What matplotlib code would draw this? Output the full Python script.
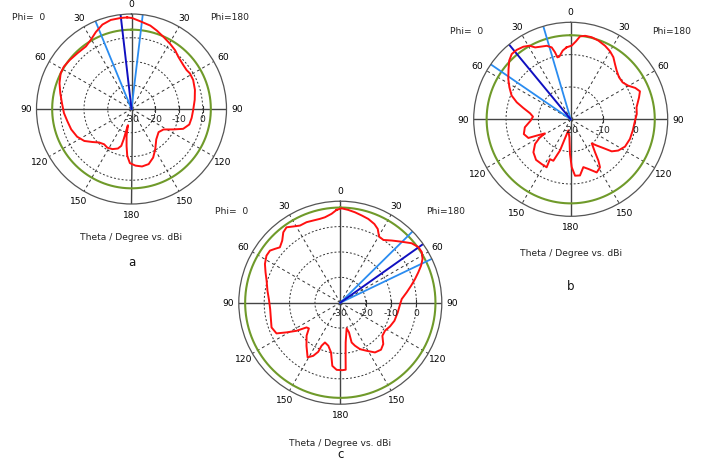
import numpy as np
import matplotlib
matplotlib.use("Agg")
import matplotlib.pyplot as plt

# theta in degrees, counted from the top; Phi=0 cut on the left half,
# Phi=180 cut on the right half (stored as 360 - theta). gain in dBi.

theta_a = [2.7, 6.8, 13.1, 19, 24.9, 30.4, 36, 43.8, 51.8, 58, 63.3, 70.3, 77.5, 85.1,
           93.4, 100.7, 108.7, 117, 124.1, 130.3, 136, 142.2, 148, 154.6, 161, 164.5,
           165.5, 166.5, 167.5, 169.6, 172.4, 174.8, 178.3, 184, 190.4, 197.3, 204,
           210.5, 219.2, 229.5, 237.4, 244, 249, 255, 261.6, 269.4, 278.3, 286.8, 295.2,
           301.4, 305.2, 310.3, 318, 323.4, 329.4, 336, 342.1, 347.3, 354.2, 359.6]
gain_a = [8.6, 8.6, 8.5, 7.6, 5.7, 3.8, 2.6, 2.7, 3.2, 3.6, 3.4, 2.2, 0.7, -0.6,
          -1.5, -2.5, -3.2, -4.3, -6.0, -8.5, -10.4, -11.2, -10.8, -11.3, -12.4, -13.9,
          -16.8, -21.1, -23.0, -18.5, -14.3, -10.2, -7.2, -6.1, -5.4, -5.7, -7.6,
          -10.3, -13.5, -15.0, -14.0, -10.4, -6.7, -4.8, -4.4, -4.0, -3.1, -2.1, -1.3,
          -1.2, -1.6, -1.4, -0.5, 0.8, 1.9, 3.2, 4.7, 6.0, 7.1, 8.3]

theta_b = [3.2, 6.6, 10.3, 12.1, 13.2, 14.8, 18, 22.4, 26.3, 29.3, 33.1, 37.9, 42.1,
           46.3, 51.1, 57.1, 62.4, 68.1, 72.5, 76.5, 81.6, 86, 91.9, 99.9, 107.5, 113.8,
           115.6, 118.6, 120.9, 124.7, 131.5, 139.5, 147, 153.4, 152.5, 157.3, 158.9,
           161.1, 163, 168, 175.9, 178.8, 181.2, 184.4, 189.4, 194.8, 199.6, 206.1,
           211.4, 213.8, 216.4, 221.2, 224.7, 228.7, 232, 236.7, 243.3, 251.6, 259.7,
           268.8, 274.6, 280.3, 287.8, 292, 295.9, 300.3, 305.4, 311, 316.6, 321.3,
           325.5, 330, 335, 340.6, 345.6, 350.2, 353.6, 356.1, 359.2]
gain_b = [2.3, 1.4, -0.3, -0.4, 1.3, 3.0, 3.9, 4.3, 4.8, 6.1, 6.8, 7.2, 7.2,
          6.3, 4.7, 3.0, 1.4, -0.3, -2.5, -4.9, -7.3, -8.3, -7.6, -5.6, -4.8, -5.7,
          -8.3, -10.9, -8.7, -6.6, -4.6, -3.5, -3.5, -3.4, -6.1, -6.1, -8.0,
          -9.8, -13.5, -16.5, -14.4, -9.3, -5.2, -2.5, -2.4, -4.7, -3.7, -1.7,
          -2.6, -4.6, -7.3, -10.1, -8.6, -6.5, -3.9, -2.4, -1.2, -0.7, -0.5,
          -0.1, 0.5, 0.7, 2.2, 3.1, 2.2, 0.6, -0.3, -0.2, 0.7, 1.9,
          3.3, 4.3, 5.1, 5.8, 6.2, 6.2, 5.8, 4.2, 2.8]

theta_c = [2.3, 5.6, 10.2, 13.7, 18.2, 22.7, 27.6, 31.7, 35.5, 39, 43.1, 47.5, 50.6,
           53.5, 57.5, 62.8, 67.9, 73.4, 80.6, 88, 95.2, 103.3, 109.8, 115.7, 118.9,
           122.7, 126.2, 129.3, 134.4, 141.9, 149.1, 153, 155.8, 156.5, 158.9, 164.4,
           169.4, 172.8, 176.9, 181.7, 184.6, 185.7, 187.7, 193.9, 196.3, 195.9, 198.8,
           203, 208.7, 214.9, 220.9, 226.1, 231.8, 237.9, 244.5, 251.6, 260.4, 268.7,
           273.4, 278.9, 283.5, 287.6, 291.3, 294.6, 298, 301.8, 305.4, 309.8, 314.8,
           320.4, 325.5, 329.6, 333.1, 336.6, 341.5, 346.2, 350.8, 355.1, 359.2]
gain_c = [6.6, 5.2, 4.2, 4.0, 4.1, 4.4, 4.3, 5.3, 6.5, 5.7, 3.5, 2.3, 3.4,
          4.5, 4.5, 3.4, 1.8, 0.3, -0.9, -1.9, -2.25, -1.9, -1.2, -2.1, -5.8,
          -9.5, -13.5, -14.0, -11.4, -8.4, -4.9, -6.5, -8.8, -11.5, -13.2, -12.4,
          -10.1, -4.9, -3.5, -3.4, -3.5, -9.0, -14.2, -19.6, -17.8, -13.7, -12.1,
          -10.1, -8.4, -6.1, -5.5, -6.5, -8.9, -9.2, -8.3, -7.5, -7.05, -6.4,
          -5.75, -3.5, -1.3, 0.9, 3.0, 5.0, 6.7, 7.8, 7.8, 6.6, 4.1,
          1.8, 0.0, 0.2, 2.6, 3.8, 4.8, 5.4, 6.1, 6.7, 7.2]

# main lobe direction and 3 dB angular width lines (deg)
main_a, width_a = 6.6, [22.3, 353.2]
main_b, width_b = 39.5, [16.4, 55.5]
main_c, width_c = 305.3, [314.6, 295.6]

# level circle (dBi)
level_a, level_b, level_c = 3.4, 6.0, 7.5

ring_labels_a = [-30, -20, -10, 0]
ring_labels_b = [-20, -10, 0]
ring_labels_c = [-30, -20, -10, 0]

tick_angles = [0, 30, 60, 90, 120, 150, 180, 210, 240, 270, 300, 330]
tick_labels = ["0", "30", "60", "90", "120", "150", "180", "150", "120", "90", "60", "30"]

W, H = 712, 460
FS = 6.6
plt.rcParams["font.family"] = ["DejaVu Sans"]

fig = plt.figure(figsize=(W / 100, H / 100), dpi=100)
fig.patch.set_facecolor("white")


def polar_panel(cx, cy, R, theta, gain, rmin, rings, main, widths, level, letter,
                phi_y, ty, ly):
    ax = fig.add_axes([(cx - R) / W, (H - cy - R) / H, 2 * R / W, 2 * R / H], projection="polar")
    ax.set_theta_zero_location("N")
    ax.set_theta_direction(1)
    rmax = 10
    ax.set_ylim(rmin, rmax)
    ax.grid(False)
    ax.set_yticks([])
    ax.set_xticks(np.deg2rad(tick_angles))
    ax.set_xticklabels(tick_labels)
    ax.tick_params(axis="x", pad=0.5, labelsize=FS, length=0)
    ax.spines["polar"].set_color("#555555")
    ax.spines["polar"].set_linewidth(0.9)

    full = np.linspace(0, 2 * np.pi, 400)
    for r in rings[1:]:
        ax.plot(full, np.full_like(full, r), color="#333333", lw=0.7, ls=(0, (2, 2)))
    for a in [30, 60, 120, 150, 210, 240, 300, 330]:
        t = np.deg2rad(a)
        ax.plot([t, t], [rmin, rmax], color="#333333", lw=0.7, ls=(0, (3, 3)))
    for a in [0, 90, 180, 270]:
        t = np.deg2rad(a)
        ax.plot([t, t], [rmin, rmax], color="#444444", lw=1.0)
    t270 = np.deg2rad(270)
    ax.plot([t270] * (len(rings) - 1), rings[1:], ls="none", marker="|", ms=4,
            mew=0.8, color="#333333")
    for r in rings:
        ax.annotate(str(r), xy=(t270, r), xytext=(0, -7), textcoords="offset points",
                    ha="center", va="center", fontsize=FS, color="#222222")

    ax.plot(full, np.full_like(full, level), color="#6f9a2a", lw=1.5)
    for w in widths:
        t = np.deg2rad(w)
        ax.plot([t, t], [rmin, rmax], color="#2a8cf0", lw=1.3)
    t = np.deg2rad(main)
    ax.plot([t, t], [rmin, rmax], color="#1010c0", lw=1.4)

    th = np.deg2rad(np.r_[theta, theta[0]])
    g = np.r_[gain, gain[0]]
    ax.plot(th, g, color="#ff1010", lw=1.4)

    fig.text((cx - R - 24) / W, 1 - phi_y / H, "Phi=  0", fontsize=FS,
             ha="left", va="center", color="#222222")
    fig.text((cx + R + 23) / W, 1 - phi_y / H, "Phi=180", fontsize=FS,
             ha="right", va="center", color="#222222")
    fig.text(cx / W, 1 - ty / H, "Theta / Degree vs. dBi", fontsize=FS,
             ha="center", va="center", color="#222222")
    fig.text(cx / W, 1 - ly / H, letter, fontsize=8.5, ha="center", va="center",
             color="#111111")
    return ax


polar_panel(131.5, 110, 95, theta_a, gain_a, -30, ring_labels_a, main_a, width_a,
            level_a, "a", 17, 238, 262)
polar_panel(570.7, 120.3, 97, theta_b, gain_b, -20, ring_labels_b, main_b, width_b,
            level_b, "b", 32, 253, 287)
polar_panel(340.3, 303.7, 101.5, theta_c, gain_c, -30, ring_labels_c, main_c, width_c,
            level_c, "c", 212, 444, 455)

fig.savefig("out.png", dpi=100)
